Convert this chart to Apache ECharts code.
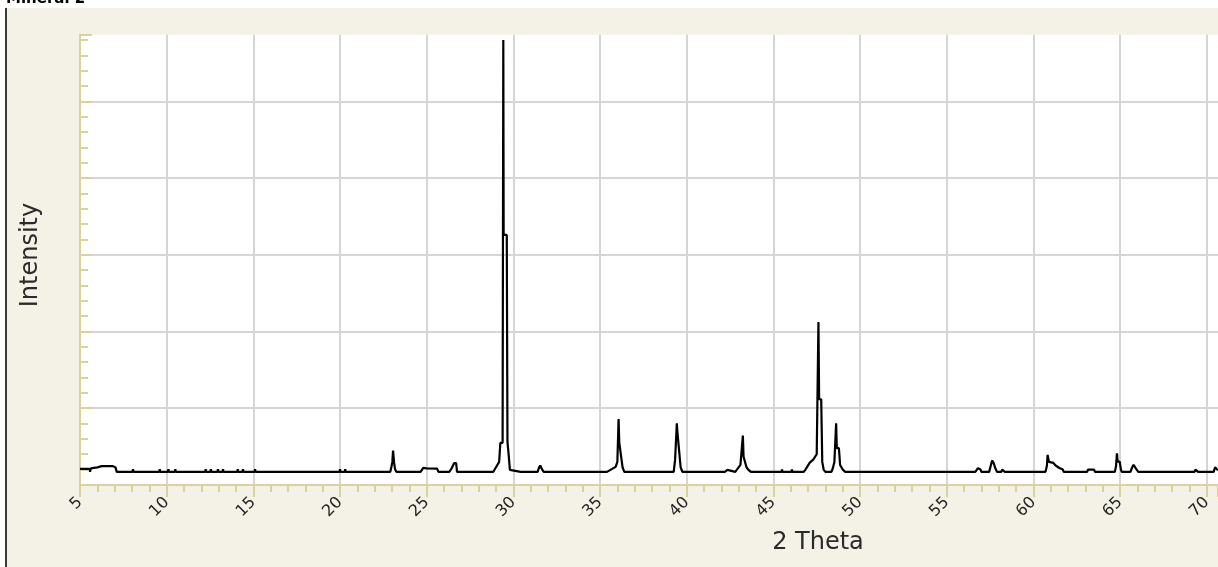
<!DOCTYPE html>
<html>
<head>
<meta charset="utf-8">
<script src="https://cdn.jsdelivr.net/npm/echarts@6/dist/echarts.min.js"></script>
<style>
  html, body { margin: 0; padding: 0; background: #ffffff; }
  #panel { position: absolute; left: 7px; top: 8px; width: 1211px; height: 559px; background: #f4f2e6; }
  #edge { position: absolute; left: 5px; top: 8px; width: 2px; height: 559px; background: #3b3a33; }
  #chart { position: absolute; left: 0; top: 0; width: 1218px; height: 567px; }
</style>
</head>
<body>
<div id="panel"></div>
<div id="edge"></div>
<div id="chart"></div>
<script>
// ---- data ----
const chartTitle = "Mineral 2";
const xAxisName = "2 Theta";
const yAxisName = "Intensity";
const xTicks = [5, 10, 15, 20, 25, 30, 35, 40, 45, 50, 55, 60, 65, 70];

const twoTheta = [
  5.00, 5.55, 5.58, 5.62, 6.00, 6.25, 6.90, 7.05, 7.12,
  8.03, 8.06, 8.09, 9.57, 9.60, 9.63, 10.07, 10.10, 10.13, 10.47, 10.50, 10.53,
  12.22, 12.25, 12.28, 12.52, 12.55, 12.58, 12.93, 12.96, 12.99, 13.22, 13.25, 13.28,
  14.07, 14.10, 14.13, 14.37, 14.40, 14.43, 15.07, 15.10, 15.13,
  19.97, 20.00, 20.03, 20.27, 20.30, 20.33,
  22.90, 22.97, 23.02, 23.06, 23.12, 23.18, 23.25,
  24.65, 24.80, 25.00, 25.60, 25.68,
  26.30, 26.45, 26.58, 26.70, 26.75,
  28.44, 28.47, 28.50,
  28.85, 28.92, 29.05, 29.18, 29.25, 29.38, 29.40, 29.42, 29.44, 29.62, 29.66, 29.72, 29.80, 29.90,
  30.42, 30.45, 30.48,
  31.40, 31.48, 31.55, 31.65, 31.75,
  35.40, 35.50, 35.90, 36.00, 36.07, 36.11, 36.22, 36.30, 36.40,
  39.25, 39.33, 39.43, 39.47, 39.58, 39.65, 39.75,
  42.20, 42.25, 42.35, 42.40,
  42.80, 42.90, 43.10, 43.24, 43.28, 43.38, 43.45, 43.55, 43.70,
  45.47, 45.50, 45.53, 46.04, 46.07, 46.10,
  46.75, 46.85, 47.10, 47.30, 47.50, 47.60, 47.64, 47.76, 47.82, 47.90, 48.00,
  48.35, 48.43, 48.52, 48.62, 48.66, 48.78, 48.85, 49.00, 49.15,
  51.42, 51.45, 51.48,
  56.65, 56.80, 56.95, 57.00,
  57.45, 57.55, 57.62, 57.70, 57.80, 57.90,
  58.15, 58.20, 58.30, 58.35,
  60.70, 60.78, 60.82, 60.90, 61.15, 61.30, 61.50, 61.70, 61.75,
  63.10, 63.15, 63.50, 63.55,
  64.70, 64.77, 64.82, 64.86, 64.98, 65.05, 65.10,
  65.60, 65.70, 65.78, 65.90, 66.00, 66.05,
  69.30, 69.35, 69.45, 69.50,
  70.40, 70.48, 70.60, 70.65
];

const intensity = [
  210, 210, 172, 215, 228, 245, 245, 228, 170,
  170, 205, 170, 170, 205, 170, 170, 205, 170, 170, 205, 170,
  170, 205, 170, 170, 205, 170, 170, 205, 170, 170, 205, 170,
  170, 205, 170, 170, 205, 170, 170, 205, 170,
  170, 205, 170, 170, 205, 170,
  170, 240, 300, 447, 290, 200, 170,
  170, 222, 215, 212, 170,
  170, 220, 283, 283, 170,
  170, 196, 170,
  170, 200, 250, 300, 548, 548, 560, 5802, 3259, 3259, 560, 417, 196, 170,
  170, 196, 170,
  170, 225, 252, 205, 170,
  170, 196, 235, 300, 860, 552, 552, 230, 170,
  170, 326, 804, 674, 674, 230, 170,
  170, 196, 196, 170,
  170, 196, 260, 643, 369, 369, 230, 200, 170,
  170, 200, 170, 170, 200, 170,
  170, 200, 291, 330, 400, 2125, 1117, 1117, 300, 200, 170,
  170, 217, 300, 804, 479, 479, 260, 200, 170,
  170, 196, 170,
  170, 217, 200, 170,
  170, 260, 317, 290, 220, 170,
  170, 200, 200, 170,
  170, 250, 391, 300, 287, 250, 220, 200, 170,
  170, 200, 200, 170,
  170, 250, 413, 304, 304, 200, 170,
  170, 230, 261, 220, 200, 170,
  170, 200, 200, 170,
  170, 230, 200, 195
];

// ---- chart ----
const pattern = twoTheta.map((t, i) => [t, intensity[i]]);
const tickColor = '#d9d29c';
const gridColor = '#d5d5d5';

const chart = echarts.init(document.getElementById('chart'), null, { renderer: 'canvas' });
chart.setOption({
  animation: false,
  backgroundColor: 'transparent',
  grid: {
    left: 80, right: 0, top: 34.7, bottom: 82.1,
    containLabel: false,
    outerBoundsMode: 'none',
    show: true,
    backgroundColor: '#ffffff',
    borderWidth: 0
  },
  xAxis: {
    type: 'value',
    min: xTicks[0],
    max: 70.65,
    interval: 5,
    axisLine: { show: true, onZero: false, lineStyle: { color: tickColor, width: 2 } },
    axisTick: { show: true, inside: false, length: 12, lineStyle: { color: tickColor, width: 2 } },
    minorTick: { show: true, splitNumber: 5, length: 7, lineStyle: { color: tickColor, width: 2 } },
    splitLine: { show: true, showMinLine: false, showMaxLine: false, lineStyle: { color: gridColor, width: 2 } },
    axisLabel: {
      rotate: 45,
      margin: 15,
      color: '#222222',
      fontFamily: 'DejaVu Sans',
      fontSize: 16,
      showMaxLabel: false,
      formatter: v => (xTicks.indexOf(v) >= 0 ? String(v) : '')
    }
  },
  yAxis: {
    type: 'value',
    min: 0,
    max: 5870,
    interval: 1000,
    axisLine: { show: true, lineStyle: { color: tickColor, width: 2 } },
    axisTick: { show: true, inside: true, length: 12, lineStyle: { color: tickColor, width: 2 } },
    minorTick: { show: true, splitNumber: 5, length: 8, lineStyle: { color: tickColor, width: 2 } },
    splitLine: { show: true, showMinLine: false, showMaxLine: false, lineStyle: { color: gridColor, width: 2 } },
    axisLabel: { show: false }
  },
  graphic: [
    {
      type: 'text', x: 6, y: 7, z: 100,
      style: { text: chartTitle, font: 'bold 15px "DejaVu Sans"', fill: '#000', verticalAlign: 'bottom' }
    },
    {
      type: 'text', x: 818, y: 543, z: 100,
      style: { text: xAxisName, font: '24px "DejaVu Sans"', fill: '#2a2a2a', align: 'center', verticalAlign: 'middle' }
    },
    {
      type: 'text', x: 31, y: 255, rotation: Math.PI / 2, z: 100,
      style: { text: yAxisName, font: '24px "DejaVu Sans"', fill: '#2a2a2a', align: 'center', verticalAlign: 'middle' }
    }
  ],
  series: [{
    type: 'line',
    data: pattern,
    showSymbol: false,
    symbol: 'none',
    smooth: false,
    clip: true,
    lineStyle: { color: '#000000', width: 2.2 }
  }]
});
</script>
</body>
</html>
